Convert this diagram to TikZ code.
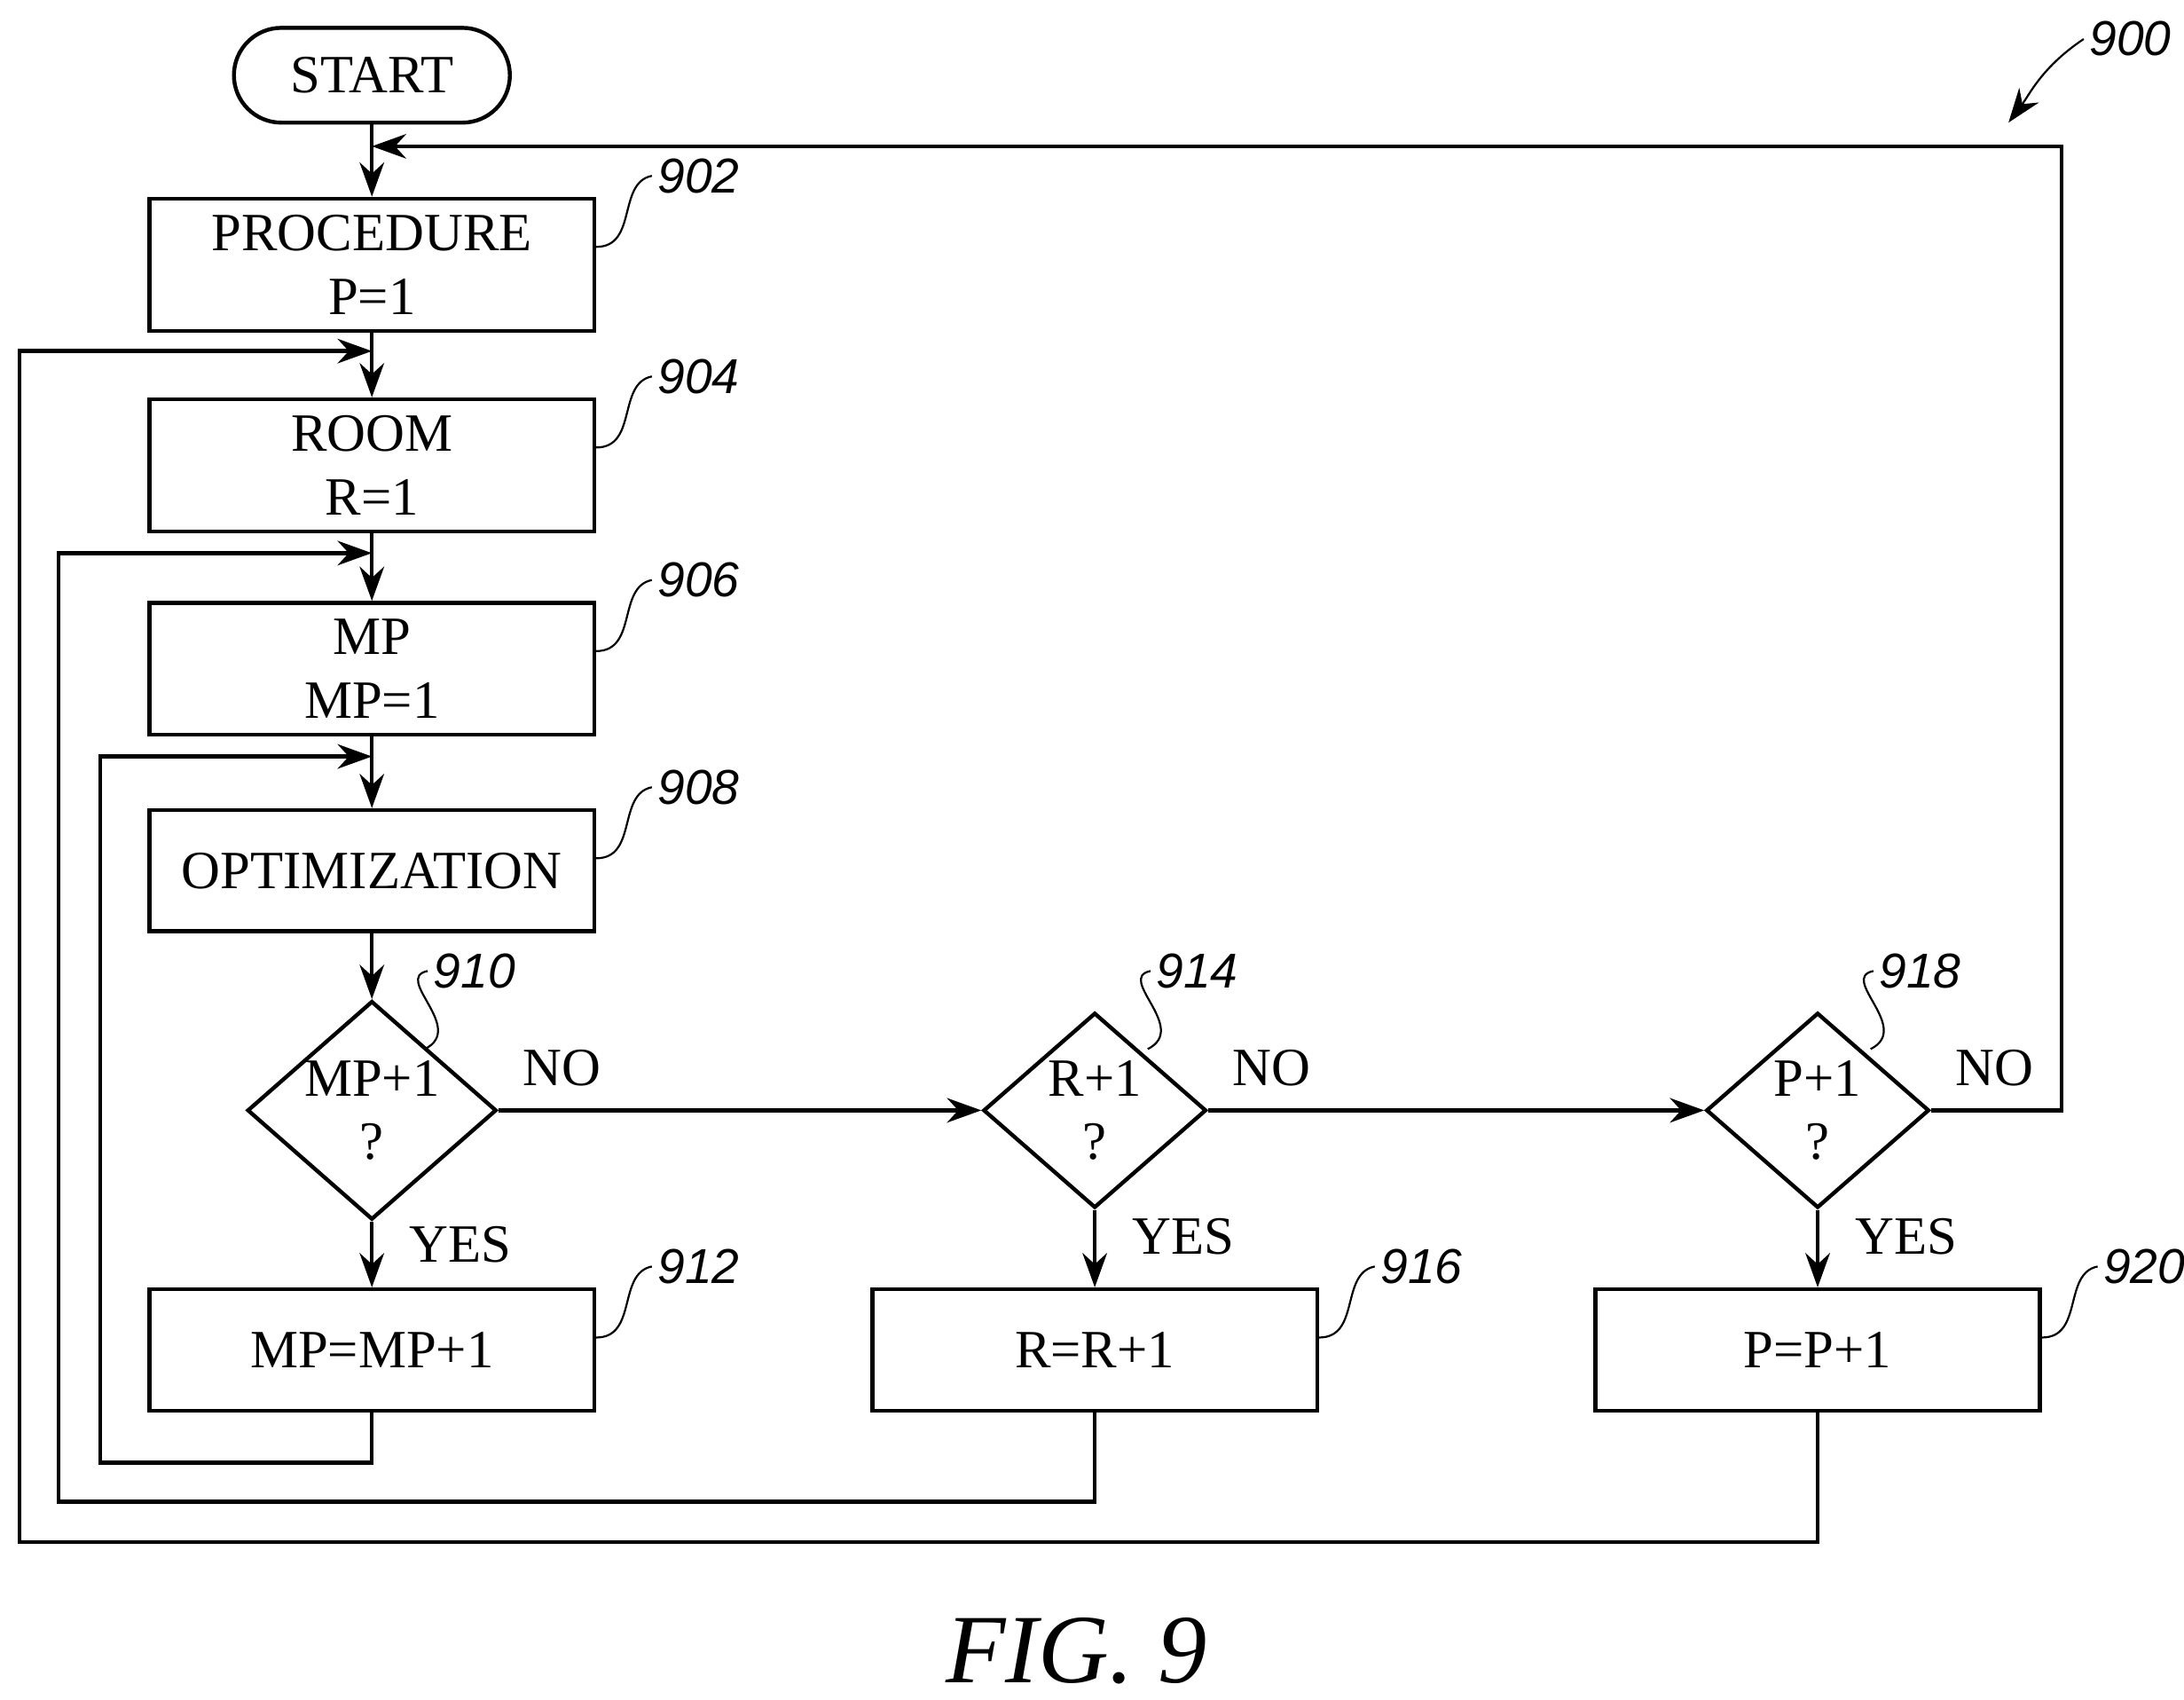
\documentclass[tikz,border=0pt]{standalone}
\usepackage{fontspec}
\setmainfont{Liberation Serif}
\newfontfamily\reffont{Liberation Sans}
\usetikzlibrary{shapes,arrows.meta,calc}
\tikzset{
  box/.style={draw,thick,minimum width=3.19cm,minimum height=0.87cm,align=center,font=\fontsize{11}{13}\selectfont},
  dec/.style={draw,thick,diamond,aspect=1.14,minimum width=1.6cm,minimum height=1.4cm,inner sep=0pt,align=center,font=\fontsize{11}{13}\selectfont},
  lbl/.style={font=\fontsize{11}{13}\selectfont},
  refn/.style={font=\reffont\itshape\fontsize{10}{12}\selectfont,anchor=west,inner sep=1pt},
  flow/.style={thick,-{Stealth[length=7pt,width=5pt]}},
  lead/.style={thin}
}
\begin{document}
\begin{tikzpicture}[x=0.01cm,y=-0.01cm]
\useasboundingbox (0,0) rectangle (1568,1220);
% boxes
\node[draw,thick,rounded corners=0.34cm,minimum width=1.98cm,minimum height=0.68cm,font=\fontsize{11}{13}\selectfont] (start) at (267,54) {START};
\node[box] (proc) at (267,190) {PROCEDURE\\P=1};
\node[box] (room) at (267,334) {ROOM\\R=1};
\node[box] (mp) at (267,480) {MP\\MP=1};
\node[box] (opt) at (267,625) {OPTIMIZATION};
\node[dec] (dmp) at (267,797) {MP+1\\?};
\node[dec] (dr) at (786,797) {R+1\\?};
\node[dec] (dp) at (1305,797) {P+1\\?};
\node[box] (incmp) at (267,969) {MP=MP+1};
\node[box] (incr) at (786,969) {R=R+1};
\node[box] (incp) at (1305,969) {P=P+1};
% join points
\coordinate (jp) at (267,105);
\coordinate (jr) at (267,252);
\coordinate (jm) at (267,397);
\coordinate (jo) at (267,543);
% main line
\draw[flow] (start) -- (proc);
\draw[flow] (proc) -- (room);
\draw[flow] (room) -- (mp);
\draw[flow] (mp) -- (opt);
\draw[flow] (opt) -- (dmp);
\draw[flow] (dmp) -- node[lbl,pos=0.35,right=4pt] {YES} (incmp);
\draw[flow] (dr) -- node[lbl,pos=0.35,right=4pt] {YES} (incr);
\draw[flow] (dp) -- node[lbl,pos=0.35,right=4pt] {YES} (incp);
\draw[flow] (dmp.east) -- (dr.west);
\draw[flow] (dr.east) -- (dp.west);
\node[lbl,anchor=south west] at ($(dmp.east)+(5,-5)$) {NO};
\node[lbl,anchor=south west] at ($(dr.east)+(5,-5)$) {NO};
\node[lbl,anchor=south west] at ($(dp.east)+(5,-5)$) {NO};
% loops
\draw[flow] (incmp.south) |- (72,1050) |- (jo);
\draw[flow] (incr.south) |- (42,1078) |- (jm);
\draw[flow] (incp.south) |- (14,1107) |- (jr);
\draw[flow] (dp.east) -| (1480,105) -- (jp);
% reference numbers
\foreach \n/\t in {proc/902,room/904,mp/906,opt/908,incmp/912,incr/916,incp/920}{
  \node[refn] (r\t) at ($(\n.north east)+(40,-15)$) {\t};
  \draw[lead] ($(\n.north east)+(0,36)$) .. controls +(30,0) and +(-25,5) .. (r\t.west);
}
\foreach \n/\t in {dmp/910,dr/914,dp/918}{
  \node[refn] (r\t) at ($(\n.center)+(40,-100)$) {\t};
  \draw[lead] ($(\n.center)+(38,-44)$) .. controls +(30,-15) and +(-25,5) .. (r\t.west);
}
\node[refn] (r900) at (1496,28) {900};
\draw[lead,-{Stealth[length=7pt,width=5pt]}] (r900.west) .. controls +(-30,20) and +(15,-20) .. (1442,88);
\node[font=\itshape\fontsize{20}{24}\selectfont] (fig) at (773,1185) {FIG. 9};
\end{tikzpicture}
\end{document}
